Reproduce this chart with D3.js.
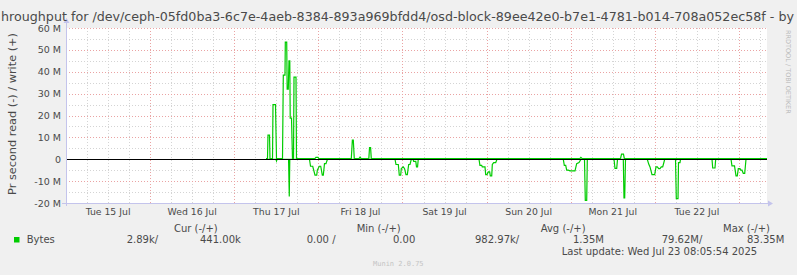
<!DOCTYPE html>
<html><head><meta charset="utf-8">
<script src="https://cdn.jsdelivr.net/npm/d3@7/dist/d3.min.js"></script>
<style>
html,body{margin:0;padding:0;background:#f0f0f0;}
svg{display:block;}
text{font-family:"DejaVu Sans",sans-serif;}
.mono{font-family:"DejaVu Sans Mono",monospace;}
</style></head>
<body>
<svg id="chart" width="797" height="275"></svg>
<script>
// ---------- data ----------
const titleText = "hroughput for /dev/ceph-05fd0ba3-6c7e-4aeb-8384-893a969bfdd4/osd-block-89ee42e0-b7e1-4781-b014-708a052ec58f - by";
const yTitle = "Pr second read (-) / write (+)";
const dayLabels = ["Tue 15 Jul","Wed 16 Jul","Thu 17 Jul","Fri 18 Jul","Sat 19 Jul","Sun 20 Jul","Mon 21 Jul","Tue 22 Jul"];
const yTicks = [-20,-10,0,10,20,30,40,50,60];          // in M
const yTickLabels = ["-20 M","-10 M","0","10 M","20 M","30 M","40 M","50 M","60 M"];
// hours since Tue 15 Jul 00:00, values in MB/s
const writeHours = [57.06,57.49,57.63,58.06,58.2,58.92,59.06,59.77,60.06,61.77,62.0,62.48,62.57,62.97,63.1,63.42,63.62,63.85,63.97,64.34,64.62,64.91,65.05,65.62,65.76,
  71.0,71.3,71.9,72.1,81.4,81.7,81.97,82.25,83.6,83.9,84.2,86.4,86.6,86.9,87.1,146.6,146.9,147.3,158.2,158.5,159.05,159.3,200];
const writeMB = [0.3,0.3,11,11,0.3,0.3,25,25,0.3,0.3,38.5,38.5,53.5,53.5,32,32,45,45,18.8,18.8,0.3,0.3,37.5,37.5,0.3,
  0.3,0.9,0.9,0.3,0.3,8.7,8.7,0.3,0.3,1.0,0.3,0.3,5.3,5.3,0.3,0.3,0.9,0.3,0.3,2.3,2.3,0.3,0.3];
const readHours = [57.06,59.9,60.06,60.2,63.5,63.7,63.85,
  69.47,69.76,70.39,71.04,71.53,71.7,72.27,72.67,73.13,73.41,73.75,74.18,74.38,74.6,
  93.87,94.15,94.81,95.09,95.49,95.66,96.23,96.6,97.0,97.38,97.77,98.15,98.52,99.0,99.2,99.8,100.0,100.3,100.5,
  117.83,118.1,118.6,118.77,119.54,119.74,120.11,120.48,120.88,121.06,121.46,121.63,122.03,122.6,122.97,
  141.88,142.17,142.57,142.85,143.3,143.8,145.22,145.7,146.36,146.93,147.93,148.16,148.56,148.73,
  156.35,156.63,157.12,157.35,159.0,159.2,159.4,159.63,
  165.85,166.25,166.62,167.19,167.96,168.33,168.7,169.1,169.47,169.84,170.24,170.41,170.81,
  173.9,174.12,174.61,174.75,175.18,175.32,184.31,184.51,185.16,185.36,
  189.73,190.01,190.73,191.16,191.53,191.81,192.3,192.5,192.87,193.24,193.64,194.01,200];
const readMB = [0,0,0.8,0,0,17,0,
  0,3.2,3.2,7.3,7.3,5,3.2,3.2,7.3,7.3,2,2,1,0,
  0,2.4,2.4,7.3,7.3,4.3,3.5,4.3,7,7,2.4,2.4,0,0,1.0,1.0,3.5,3.5,0,
  0,2.8,2.8,3.5,3.5,7,7,5.8,5.8,7.6,7.6,2.4,1.5,1.5,0,
  0,2.8,2.8,5,5,5.3,5.3,2,1.5,0,0,18.8,18.8,0,
  0,4.2,4.2,0,0,17.7,17.7,0,
  0,2.2,3.5,7,7,3.5,3.5,4.3,4.3,3.5,3.5,2.5,0,
  0,18,18,1.5,1.5,0,0,4,4,0,
  0,3,3,7.6,7.6,4.3,4.3,5,5,6.5,6.5,0,0];
const seriesName = "Bytes";
const legendHeads = ["Cur (-/+)","Min (-/+)","Avg (-/+)","Max (-/+)"];
const legendVals = ["2.89k/","441.00k","0.00 /","0.00","982.97k/","1.35M","79.62M/","83.35M"];
const lastUpdate = "Last update: Wed Jul 23 08:05:54 2025";
const version = "Munin 2.0.75";
const watermark = "RRDTOOL / TOBI OETIKER";

// ---------- drawing ----------
const svg = d3.select("#chart");
const t0 = Date.UTC(2025,6,15,0,0);
const toDate = h => new Date(t0 + h*3600e3);
const L = 66, R = 767, T = 28, B = 203;
const x = d3.scaleUtc().domain([toDate(0), toDate(200)]).range([L, R]);
const y = d3.scaleLinear().domain([-20, 60]).range([B, T]);

svg.append("rect").attr("x",L).attr("y",T).attr("width",R-L).attr("height",B-T).attr("fill","#fff");

// minor grid
const g = svg.append("g").attr("shape-rendering","crispEdges");
const minorY = d3.range(-15, 60, 10);
g.selectAll(".mh").data(minorY).join("line")
  .attr("x1",L).attr("x2",R).attr("y1",d=>Math.round(y(d))+0.5).attr("y2",d=>Math.round(y(d))+0.5)
  .attr("stroke","#d4d4d4").attr("stroke-dasharray","1,2");
const sixH = d3.utcHour.every(6).range(toDate(0), toDate(200)).filter(d=>d.getUTCHours()!==0);
g.selectAll(".mv").data(sixH).join("line")
  .attr("x1",d=>Math.round(x(d))+0.5).attr("x2",d=>Math.round(x(d))+0.5).attr("y1",T).attr("y2",B)
  .attr("stroke","#d4d4d4").attr("stroke-dasharray","1,2");
// major grid
g.selectAll(".Mh").data(yTicks).join("line")
  .attr("x1",L).attr("x2",R).attr("y1",d=>Math.round(y(d))+0.5).attr("y2",d=>Math.round(y(d))+0.5)
  .attr("stroke","#eaa3a3").attr("stroke-dasharray","1,2");
const days = d3.utcDay.range(toDate(0), toDate(200.1));
g.selectAll(".Mv").data(days).join("line")
  .attr("x1",d=>Math.round(x(d))+0.5).attr("x2",d=>Math.round(x(d))+0.5).attr("y1",T).attr("y2",B)
  .attr("stroke","#eaa3a3").attr("stroke-dasharray","1,2");

// y tick labels
svg.selectAll(".yl").data(yTicks).join("text")
  .attr("x",61).attr("y",d=>y(d)+3.5).attr("text-anchor","end")
  .attr("font-size","9.5px").attr("fill","#4a4a4a")
  .text((d,i)=>yTickLabels[i]);
// x tick labels at noon
svg.selectAll(".xl").data(dayLabels).join("text")
  .attr("x",(d,i)=>x(d3.utcHour.offset(days[i],12))).attr("y",215).attr("text-anchor","middle")
  .attr("font-size","9.3px").attr("fill","#4a4a4a").text(d=>d);

// data lines
const line = d3.line().x(d=>x(toDate(d[0]))).y(d=>y(d[1]));
const wData = writeHours.map((h,i)=>[h, writeMB[i]]);
const rData = readHours.map((h,i)=>[h, -readMB[i]]);
svg.append("path").attr("d",line(rData)).attr("fill","none").attr("stroke","#00cc00").attr("stroke-width",1.2);
svg.append("path").attr("d",line(wData)).attr("fill","none").attr("stroke","#00cc00").attr("stroke-width",1.2);
// zero line
svg.append("line").attr("x1",L).attr("x2",R).attr("y1",Math.round(y(0))+0.5).attr("y2",Math.round(y(0))+0.5)
  .attr("stroke","#000").attr("stroke-width",1).attr("shape-rendering","crispEdges");

// axes with arrows
const ac = "#c4c4ec";
svg.append("line").attr("x1",L+0.5).attr("x2",L+0.5).attr("y1",B+3).attr("y2",T-6).attr("stroke",ac).attr("shape-rendering","crispEdges");
svg.append("line").attr("x1",L-4).attr("x2",R+3).attr("y1",B+0.5).attr("y2",B+0.5).attr("stroke",ac).attr("shape-rendering","crispEdges");
svg.append("path").attr("d",`M${L-2.5},${T-5}L${L+3.5},${T-5}L${L+0.5},${T-10}Z`).attr("fill",ac);
svg.append("path").attr("d",`M${R+1},${B-2.5}L${R+1},${B+3.5}L${R+6},${B+0.5}Z`).attr("fill",ac);

// title
svg.append("text").attr("x",1).attr("y",21).attr("font-size","12.5px").attr("fill","#4a4a4a")
  .attr("textLength",793).attr("lengthAdjust","spacingAndGlyphs").text(titleText);
// y title
svg.append("text").attr("transform","translate(16,114) rotate(-90)").attr("text-anchor","middle")
  .attr("font-size","11.3px").attr("fill","#4a4a4a").text(yTitle);
// watermark
svg.append("text").attr("transform","translate(786,30) rotate(90)").attr("font-size","6.5px").attr("fill","#bbb").text(watermark);

// legend
svg.append("rect").attr("x",14).attr("y",237).attr("width",5.5).attr("height",5.5).attr("fill","#00cc00");
const lg = svg.append("g").attr("class","mono").attr("font-size","10px").attr("fill","#4a4a4a");
lg.append("text").attr("x",26.7).attr("y",243).text(seriesName);
const headX = [174,356.7,540.7,723];
lg.selectAll(".lh").data(legendHeads).join("text").attr("x",(d,i)=>headX[i]).attr("y",232).text(d=>d);
const valX = [126.7,200,306.7,393,475,573,661.7,747];
lg.selectAll(".lv").data(legendVals).join("text").attr("x",(d,i)=>valX[i]).attr("y",243).text(d=>d);
lg.append("text").attr("x",561.7).attr("y",255).text(lastUpdate);
svg.append("text").attr("class","mono").attr("x",373).attr("y",266).attr("font-size","7px").attr("fill","#c4c4c4").text(version);
</script>
</body></html>
